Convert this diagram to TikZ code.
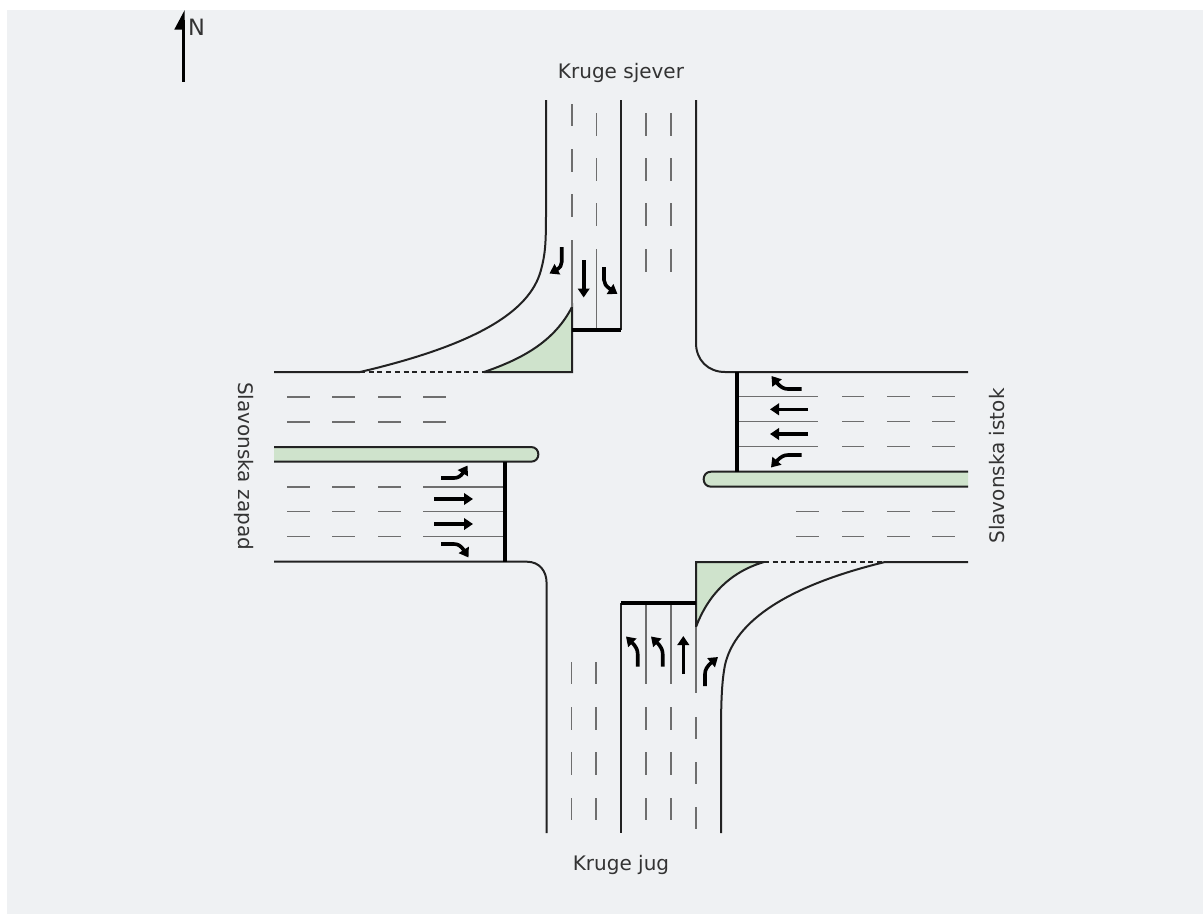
\documentclass[tikz,border=0pt]{standalone}
\usepackage{fontspec}
\setmainfont{DejaVu Sans}
\usetikzlibrary{arrows.meta,bending}
\definecolor{bgc}{HTML}{EFF1F3}
\definecolor{grn}{HTML}{CFE3CC}
\definecolor{edgec}{HTML}{222222}
\definecolor{lanec}{HTML}{6E6E6E}
\definecolor{txt}{HTML}{333333}
\tikzset{
  curb/.style={draw=edgec,line width=2pt},
  dotline/.style={draw=edgec,line width=2.6pt,dash pattern=on 5pt off 3.7pt},
  stopbar/.style={draw=black,line width=3.6pt},
  lane/.style={draw=lanec,line width=1.2pt},
  lanedash/.style={draw=lanec,line width=1.2pt},
  marker/.style={draw=black,line width=3.6pt,-{Triangle[length=9pt,width=11.5pt,flex]}},
  roadlabel/.style={text=txt,font=\fontsize{20}{24}\selectfont,inner sep=0pt},
}
\begin{document}
\begin{tikzpicture}[x=1pt,y=-1pt]
\useasboundingbox (0,0) rectangle (1203,914);
\fill[bgc] (7,10) rectangle (1203,914);

% north pointer
\draw[line width=2.8pt,black] (183.3,81.7) -- (183.3,20);
\fill[black] (184.7,10) -- (174.3,29.5) -- (184.7,29.5) -- cycle;
\node[text=txt,font=\fontsize{22.5}{26}\selectfont,inner sep=0pt,anchor=west] (north) at (188,27.5) {N};

% green kerbs
\fill[grn] (572,372) -- (572,307) .. controls (555,340) and (525,358) .. (484,372) -- cycle;
\draw[curb] (484,372) -- (572,372) -- (572,307) .. controls (555,340) and (525,358) .. (484,372);
\fill[grn] (696,562) -- (696,627) .. controls (708,595) and (730,572) .. (764,562) -- cycle;
\draw[curb] (764,562) -- (696,562) -- (696,627) .. controls (708,595) and (730,572) .. (764,562);
% medians
\fill[grn] (274,447) -- (531,447) .. controls (540.8,447) and (540.8,461.7) .. (531,461.7) -- (274,461.7) -- cycle;
\draw[curb] (274,447) -- (531,447) .. controls (540.8,447) and (540.8,461.7) .. (531,461.7) -- (274,461.7);
\fill[grn] (968,471.7) -- (711,471.7) .. controls (701.2,471.7) and (701.2,486.7) .. (711,486.7) -- (968,486.7) -- cycle;
\draw[curb] (968,471.7) -- (711,471.7) .. controls (701.2,471.7) and (701.2,486.7) .. (711,486.7) -- (968,486.7);

% curbs
\draw[curb] (546,100) -- (546,215) .. controls (546,245) and (545,255) .. (541,270) .. controls (530,312) and (475,345) .. (360,372) -- (274,372);
\draw[dotline] (360,372) -- (484,372);
\draw[curb] (621,100) -- (621,330);
\draw[curb] (696,100) -- (696,343) .. controls (696,360) and (708,372) .. (725,372) -- (968,372);
\draw[curb] (274,561.7) -- (527,561.7) .. controls (540,561.7) and (546.5,572) .. (546.5,582) -- (546.5,833);
\draw[curb] (621,603) -- (621,833);
\draw[curb] (721,833) -- (721,733) .. controls (721,700) and (722,680) .. (725,665) .. controls (735,620) and (790,585) .. (885,562) -- (968,562);
\draw[dotline] (764,562) -- (885,562);

% solid lane lines, north
\draw[lane] (572,240) -- (572,307);
\draw[lane] (596.3,249) -- (596.3,330);
% south
\draw[lane] (646,603) -- (646,684);
\draw[lane] (671,603) -- (671,684);
\draw[lane] (696,627) -- (696,693);
% west
\foreach \y in {487,511.7,536.7} \draw[lane] (423,\y) -- (505,\y);
% east
\foreach \y in {396.7,421.7,446.7} \draw[lane] (737,\y) -- (818,\y);

% dashes north
\foreach \a/\b in {104/126,149/172,194/217} \draw[lanedash] (572,\a) -- (572,\b);
\foreach \a/\b in {113/136,158/181,203/226} \draw[lanedash] (596.3,\a) -- (596.3,\b);
\foreach \x in {646,671} \foreach \a/\b in {113/136,158/181,203/226,249/272} \draw[lanedash] (\x,\a) -- (\x,\b);
% dashes south
\foreach \x in {571.7,596} \foreach \a/\b in {662/684,707/730,752/775,798/820} \draw[lanedash] (\x,\a) -- (\x,\b);
\foreach \x in {646,671} \foreach \a/\b in {707/730,752/775,798/820} \draw[lanedash] (\x,\a) -- (\x,\b);
\foreach \a/\b in {717/739,762/784,807/829} \draw[lanedash] (696,\a) -- (696,\b);
% dashes west
\foreach \y in {397,422} \foreach \a/\b in {287/310,332/355,378/401,423/446} \draw[lanedash] (\a,\y) -- (\b,\y);
\foreach \y in {487,511.7,536.7} \foreach \a/\b in {287/310,332/355,378/401} \draw[lanedash] (\a,\y) -- (\b,\y);
% dashes east
\foreach \y in {396.7,421.7,446.7} \foreach \a/\b in {842/864,887/910,932/955} \draw[lanedash] (\a,\y) -- (\b,\y);
\foreach \y in {511.7,536.7} \foreach \a/\b in {796/819,842/864,887/910,932/955} \draw[lanedash] (\a,\y) -- (\b,\y);

% stop bars
\draw[stopbar] (572,330) -- (621,330);
\draw[stopbar] (621,603) -- (696,603);
\draw[stopbar] (505,461.7) -- (505,561.7);
\draw[stopbar] (737,372) -- (737,471.7);

% arrows north
\draw[marker] (561.7,247) -- (561.7,262) .. controls (561.7,267) and (558,269.5) .. (549.5,273.5);
\draw[marker] (583.7,260) -- (583.7,297.5);
\draw[marker] (604,267) -- (604,280) .. controls (604,285) and (608,288) .. (617.5,294);
% arrows west
\draw[marker] (441,478) -- (454,478) .. controls (460,478) and (463,474) .. (467.5,465.5);
\draw[marker] (434,499) -- (473,499);
\draw[marker] (434,524) -- (473,524);
\draw[marker] (441,544) -- (454,544) .. controls (460,544) and (463,548) .. (468.5,557.5);
% arrows east
\draw[marker] (801.7,389) -- (788,389) .. controls (782,389) and (778,385) .. (771.5,376);
\draw[marker] (808,409.3) -- (770,409.3);
\draw[marker] (808,434) -- (770,434);
\draw[marker] (801.7,455) -- (788,455) .. controls (782,455) and (778,459) .. (771,467.5);
% arrows south
\draw[marker] (637.7,666.7) -- (637.7,654) .. controls (637.7,648) and (634,644) .. (626,636.5);
\draw[marker] (662.7,666.7) -- (662.7,654) .. controls (662.7,648) and (659,644) .. (651,636.5);
\draw[marker] (683.3,674) -- (683.3,636);
\draw[marker] (705,686) -- (705,674) .. controls (705,668) and (709,664) .. (718,657);

% labels
\node[roadlabel] (ksj) at (621,73) {Kruge sjever};
\node[roadlabel] (kju) at (621,865) {Kruge jug};
\node[roadlabel,rotate=-90] (szap) at (244,466) {Slavonska zapad};
\node[roadlabel,rotate=90] (sist) at (997,466) {Slavonska istok};
\end{tikzpicture}
\end{document}
